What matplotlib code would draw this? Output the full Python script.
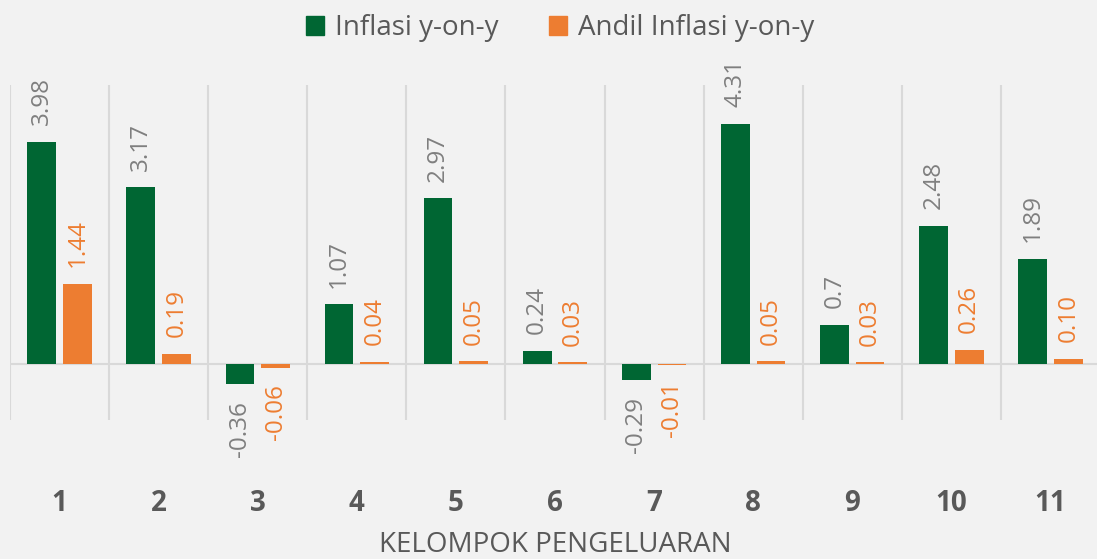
import numpy as np
import matplotlib
matplotlib.use("Agg")
import matplotlib.pyplot as plt
from matplotlib.patches import Patch

plt.rcParams['font.family'] = ['Open Sans', 'DejaVu Sans']

kelompok = ['1', '2', '3', '4', '5', '6', '7', '8', '9', '10', '11']
inflasi = [3.98, 3.17, -0.36, 1.07, 2.97, 0.24, -0.29, 4.31, 0.7, 2.48, 1.89]
inflasi_lbl = ['3.98', '3.17', '-0.36', '1.07', '2.97', '0.24', '-0.29', '4.31', '0.7', '2.48', '1.89']
andil = [1.44, 0.19, -0.06, 0.04, 0.05, 0.03, -0.01, 0.05, 0.03, 0.26, 0.10]

green = '#006633'
orange = '#ed7d31'
bg = '#f2f2f2'

fig = plt.figure(figsize=(10.97, 5.59), dpi=100, facecolor=bg)
ax = fig.add_axes([10 / 1097, 139 / 559, 1090 / 1097, 335 / 559], facecolor=bg)

x = np.arange(len(kelompok))
w = 0.29
ax.bar(x - 0.18, inflasi, w, color=green, zorder=3)
ax.bar(x + 0.18, andil, w, color=orange, zorder=3)

for xi, v, s in zip(x, inflasi, inflasi_lbl):
    ax.annotate(s, (xi - 0.18, v), xytext=(0, 12 if v >= 0 else -12),
                textcoords='offset points', rotation=90, ha='center',
                va='bottom' if v >= 0 else 'top', fontsize=17.5, color='#7f7f7f')
for xi, v in zip(x, andil):
    ax.annotate('%.2f' % v, (xi + 0.18, v), xytext=(0, 12 if v >= 0 else -12),
                textcoords='offset points', rotation=90, ha='center',
                va='bottom' if v >= 0 else 'top', fontsize=17.5, color=orange)

ax.set_xlim(-0.5, len(kelompok) - 0.5)
ax.set_ylim(-1, 5)
for gx in np.arange(-0.5, len(kelompok), 1.0):
    ax.axvline(gx, color='#d9d9d9', lw=1.5, zorder=1)
ax.axhline(0, color='#d9d9d9', lw=1.5, zorder=2)

for sp in ax.spines.values():
    sp.set_visible(False)
ax.set_yticks([])
ax.set_xticks(x)
ax.set_xticklabels(kelompok, fontsize=20, fontweight='bold', color='#595959')
ax.tick_params(axis='x', length=0, pad=50)
ax.set_xlabel('KELOMPOK PENGELUARAN', fontsize=20, color='#595959', labelpad=9)

handles = [Patch(color=green, label='Inflasi y-on-y'),
           Patch(color=orange, label='Andil Inflasi y-on-y')]
fig.legend(handles=handles, loc='center', bbox_to_anchor=(560 / 1097, 1 - 28 / 559),
           ncol=2, frameon=False, fontsize=20, labelcolor='#595959',
           handlelength=0.65, handleheight=0.65, handletextpad=0.4, columnspacing=1.8)

fig.savefig('out.png', dpi=100, facecolor=bg)
